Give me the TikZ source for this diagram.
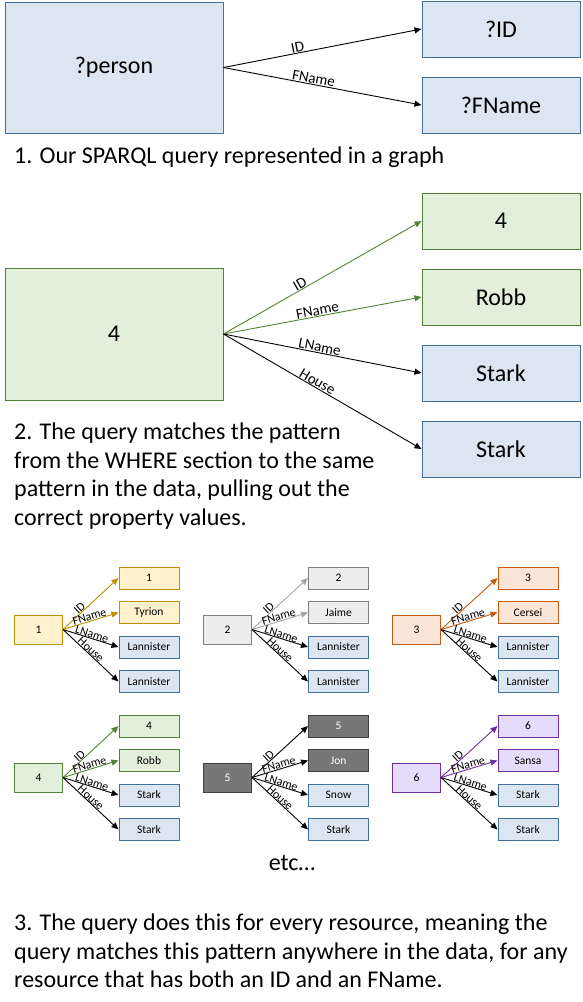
\documentclass[tikz,border=0pt]{standalone}
\usepackage{fontspec}
\setmainfont{Carlito}
\usetikzlibrary{arrows.meta}
\definecolor{bfill}{HTML}{DCE6F2}
\definecolor{bline}{HTML}{41719C}
\definecolor{gfill}{HTML}{E2EFDA}
\definecolor{gline}{HTML}{548235}
\definecolor{yfill}{HTML}{FFF2CC}
\definecolor{yline}{HTML}{BF9000}
\definecolor{sfill}{HTML}{EDEDED}
\definecolor{sline}{HTML}{7F7F7F}
\definecolor{sarrow}{HTML}{A5A5A5}
\definecolor{ofill}{HTML}{FBE5D6}
\definecolor{oline}{HTML}{C55A11}
\definecolor{dfill}{HTML}{777777}
\definecolor{dline}{HTML}{404040}
\definecolor{pfill}{HTML}{E4DCFA}
\definecolor{pline}{HTML}{7030A0}
\begin{document}
\begin{tikzpicture}[x=1pt,y=-1pt,
box/.style={draw, line width=1pt, inner sep=0pt},
big/.style={box, font=\fontsize{24}{28}\selectfont},
hub/.style={box, minimum width=48pt, minimum height=29pt, font=\fontsize{11.5}{14}\selectfont},
val/.style={box, minimum width=60pt, minimum height=22pt, font=\fontsize{11.5}{14}\selectfont},
blu/.style={fill=bfill, draw=bline},
grn/.style={fill=gfill, draw=gline},
ylw/.style={fill=yfill, draw=yline},
gry/.style={fill=sfill, draw=sline},
org/.style={fill=ofill, draw=oline},
drk/.style={fill=dfill, draw=dline, text=white},
prp/.style={fill=pfill, draw=pline},
lnk/.style={-{Triangle[length=7pt,width=6pt]}, line width=0.9pt},
tag/.style={sloped, above, inner sep=0.5pt, font=\fontsize{15}{15}\selectfont, text=black},
stag/.style={sloped, above, inner sep=0pt, font=\fontsize{12}{12}\selectfont, text=black},
txt/.style={inner sep=0pt, align=left, font=\fontsize{24}{28.5}\selectfont}]
\useasboundingbox (0,0) rectangle (583,1002);
\node[big, blu, minimum width=218pt, minimum height=131pt] (per) at (114,67.5){?person};
\node[big, blu, minimum width=158pt, minimum height=56pt] (pid) at (501,29){?ID};
\node[big, blu, minimum width=158pt, minimum height=56pt] (pfn) at (501,105){?FName};
\draw[lnk](per.east) -- (pid.west) node[tag, pos=.38]{ID};
\draw[lnk](per.east) -- (pfn.west) node[tag, pos=.45]{FName};
\node[txt, anchor=north west] (cap1) at (14,147){1. Our SPARQL query represented in a graph};
\node[big, grn, minimum width=218pt, minimum height=132pt] (res) at (114,334){4};
\node[big, grn, minimum width=158pt, minimum height=56pt] (rid) at (501,221){4};
\node[big, grn, minimum width=158pt, minimum height=56pt] (rfn) at (501,297){Robb};
\node[big, blu, minimum width=158pt, minimum height=56pt] (rln) at (501,373){Stark};
\node[big, blu, minimum width=158pt, minimum height=56pt] (rho) at (501,449){Stark};
\draw[lnk, gline](res.east) -- (rid.west) node[tag, pos=.4]{ID};
\draw[lnk, gline](res.east) -- (rfn.west) node[tag, pos=.48]{FName};
\draw[lnk](res.east) -- (rln.west) node[tag, pos=.48]{LName};
\draw[lnk](res.east) -- (rho.west) node[tag, pos=.46]{House};
\node[txt, anchor=north west] (cap2) at (14,423){2. The query matches the pattern\\from the WHERE section to the same\\pattern in the data, pulling out the\\correct property values.};
\node[hub, ylw] (g1) at (38.5,629.5){1};
\node[val, ylw] (g1a) at (149,578){1};
\node[val, ylw] (g1b) at (149,612.5){Tyrion};
\node[val, blu] (g1c) at (149,647){Lannister};
\node[val, blu] (g1d) at (149,681.5){Lannister};
\draw[lnk, yline](g1.east) -- (g1a.west) node[stag, pos=.35]{ID};
\draw[lnk, yline](g1.east) -- (g1b.west) node[stag, pos=.5]{FName};
\draw[lnk](g1.east) -- (g1c.west) node[stag, pos=.5]{LName};
\draw[lnk](g1.east) -- (g1d.west) node[stag, pos=.45]{House};
\node[hub, gry] (g2) at (227.5,629.5){2};
\node[val, gry] (g2a) at (338.5,578){2};
\node[val, gry] (g2b) at (338.5,612.5){Jaime};
\node[val, blu] (g2c) at (338.5,647){Lannister};
\node[val, blu] (g2d) at (338.5,681.5){Lannister};
\draw[lnk, sarrow](g2.east) -- (g2a.west) node[stag, pos=.35]{ID};
\draw[lnk, sarrow](g2.east) -- (g2b.west) node[stag, pos=.5]{FName};
\draw[lnk](g2.east) -- (g2c.west) node[stag, pos=.5]{LName};
\draw[lnk](g2.east) -- (g2d.west) node[stag, pos=.45]{House};
\node[hub, org] (g3) at (416.5,629.5){3};
\node[val, org] (g3a) at (528,578){3};
\node[val, org] (g3b) at (528,612.5){Cersei};
\node[val, blu] (g3c) at (528,647){Lannister};
\node[val, blu] (g3d) at (528,681.5){Lannister};
\draw[lnk, oline](g3.east) -- (g3a.west) node[stag, pos=.35]{ID};
\draw[lnk, oline](g3.east) -- (g3b.west) node[stag, pos=.5]{FName};
\draw[lnk](g3.east) -- (g3c.west) node[stag, pos=.5]{LName};
\draw[lnk](g3.east) -- (g3d.west) node[stag, pos=.45]{House};
\node[hub, grn] (g4) at (38.5,777.5){4};
\node[val, grn] (g4a) at (149,726){4};
\node[val, grn] (g4b) at (149,760.5){Robb};
\node[val, blu] (g4c) at (149,795){Stark};
\node[val, blu] (g4d) at (149,829.5){Stark};
\draw[lnk, gline](g4.east) -- (g4a.west) node[stag, pos=.35]{ID};
\draw[lnk, gline](g4.east) -- (g4b.west) node[stag, pos=.5]{FName};
\draw[lnk](g4.east) -- (g4c.west) node[stag, pos=.5]{LName};
\draw[lnk](g4.east) -- (g4d.west) node[stag, pos=.45]{House};
\node[hub, drk] (g5) at (227.5,777.5){5};
\node[val, drk] (g5a) at (338.5,726){5};
\node[val, drk] (g5b) at (338.5,760.5){Jon};
\node[val, blu] (g5c) at (338.5,795){Snow};
\node[val, blu] (g5d) at (338.5,829.5){Stark};
\draw[lnk](g5.east) -- (g5a.west) node[stag, pos=.35]{ID};
\draw[lnk](g5.east) -- (g5b.west) node[stag, pos=.5]{FName};
\draw[lnk](g5.east) -- (g5c.west) node[stag, pos=.5]{LName};
\draw[lnk](g5.east) -- (g5d.west) node[stag, pos=.45]{House};
\node[hub, prp] (g6) at (416.5,777.5){6};
\node[val, prp] (g6a) at (528,726){6};
\node[val, prp] (g6b) at (528,760.5){Sansa};
\node[val, blu] (g6c) at (528,795){Stark};
\node[val, blu] (g6d) at (528,829.5){Stark};
\draw[lnk, pline](g6.east) -- (g6a.west) node[stag, pos=.35]{ID};
\draw[lnk, pline](g6.east) -- (g6b.west) node[stag, pos=.5]{FName};
\draw[lnk](g6.east) -- (g6c.west) node[stag, pos=.5]{LName};
\draw[lnk](g6.east) -- (g6d.west) node[stag, pos=.45]{House};
\node[txt, anchor=base] (etc) at (292,870){etc…};
\node[txt, anchor=north west] (cap3) at (14,914){3. The query does this for every resource, meaning the\\query matches this pattern anywhere in the data, for any\\resource that has both an ID and an FName.};
\end{tikzpicture}
\end{document}
